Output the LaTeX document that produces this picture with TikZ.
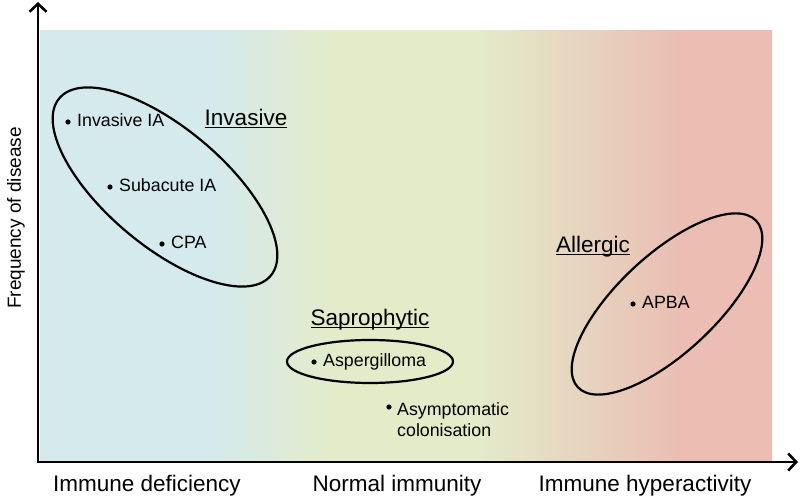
\documentclass[tikz,border=0pt]{standalone}
\usepackage{fontspec}
\setmainfont{Liberation Sans}
\usetikzlibrary{arrows.meta}
\definecolor{defblue}{HTML}{D5EAEC}
\definecolor{normgreen}{HTML}{E3EBC9}
\definecolor{hyperpink}{HTML}{EBBDB3}
% stops between 25bp and 75bp, the part that covers the path
\pgfdeclarehorizontalshading{immune}{100bp}{color(0bp)=(defblue); color(37bp)=(defblue); color(45bp)=(normgreen); color(55bp)=(normgreen); color(69bp)=(hyperpink); color(100bp)=(hyperpink)}
\newcommand{\ulbar}[1]{\setbox0\hbox{#1}\rlap{\rule[-2.5pt]{\wd0}{1.4pt}}\box0}
\tikzset{
  lbl/.style={font=\fontsize{17.8}{21}\selectfont, inner sep=0pt, align=left},
  head/.style={font=\fontsize{22.5}{26}\selectfont, inner sep=0pt, anchor=base},
  axlbl/.style={font=\fontsize{22.5}{26}\selectfont, inner sep=0pt, anchor=base},
  ring/.style={line width=2.2pt}
}
\begin{document}
\begin{tikzpicture}[x=1pt,y=1pt,line join=round,line cap=round,>={Straight Barb[length=8pt,width=17pt]}]
\def \xmin{38};
\def \xmax{798};
\def \ymin{36};
\def \ymax{496};
\useasboundingbox (0,0) rectangle (800,498);
% background
\shade[shading=immune] (40,\ymin) rectangle (772,467);
% axes
\draw[->,line width=2.6pt] (\xmin,\ymin) -- (\xmax,\ymin);
\draw[->,line width=2.6pt] (\xmin,\ymin) -- (\xmin,\ymax);
\node[axlbl] (xdef) at (147,7) {Immune deficiency};
\node[axlbl] (xnorm) at (397,7) {Normal immunity};
\node[axlbl] (xhyp) at (645,7) {Immune hyperactivity};
\node[font=\fontsize{19}{22}\selectfont, inner sep=0pt, anchor=base, rotate=90] (yfreq) at (21,280) {Frequency of disease};
% groups
\draw[ring, rotate around={-40:(165,311)}] (165,311) ellipse (138pt and 59pt);
\draw[ring] (370,136.5) ellipse (83pt and 21.5pt);
\draw[ring, rotate around={43:(667,194)}] (667,194) ellipse (122pt and 49pt);
\node[head] (invasive) at (246,372) {\ulbar{Invasive}};
\node[head] (sapro) at (370,172) {\ulbar{Saprophytic}};
\node[head] (allergic) at (593,245) {\ulbar{Allergic}};
% diseases
\foreach \x/\y/\n/\l in {68/376/ia/Invasive IA,110/311/sub/Subacute IA,162/254/cpa/CPA,314/136/asp/Aspergilloma,633/194/apba/APBA}{\fill[black] (\x,\y) circle(2.6pt) +(9,-5) node[lbl,anchor=base west] (\n) {\l};}
\fill[black] (389,91) circle(2.6pt) +(8,5) node[lbl,anchor=north west] (asym) {Asymptomatic\\colonisation};
\end{tikzpicture}
\end{document}
